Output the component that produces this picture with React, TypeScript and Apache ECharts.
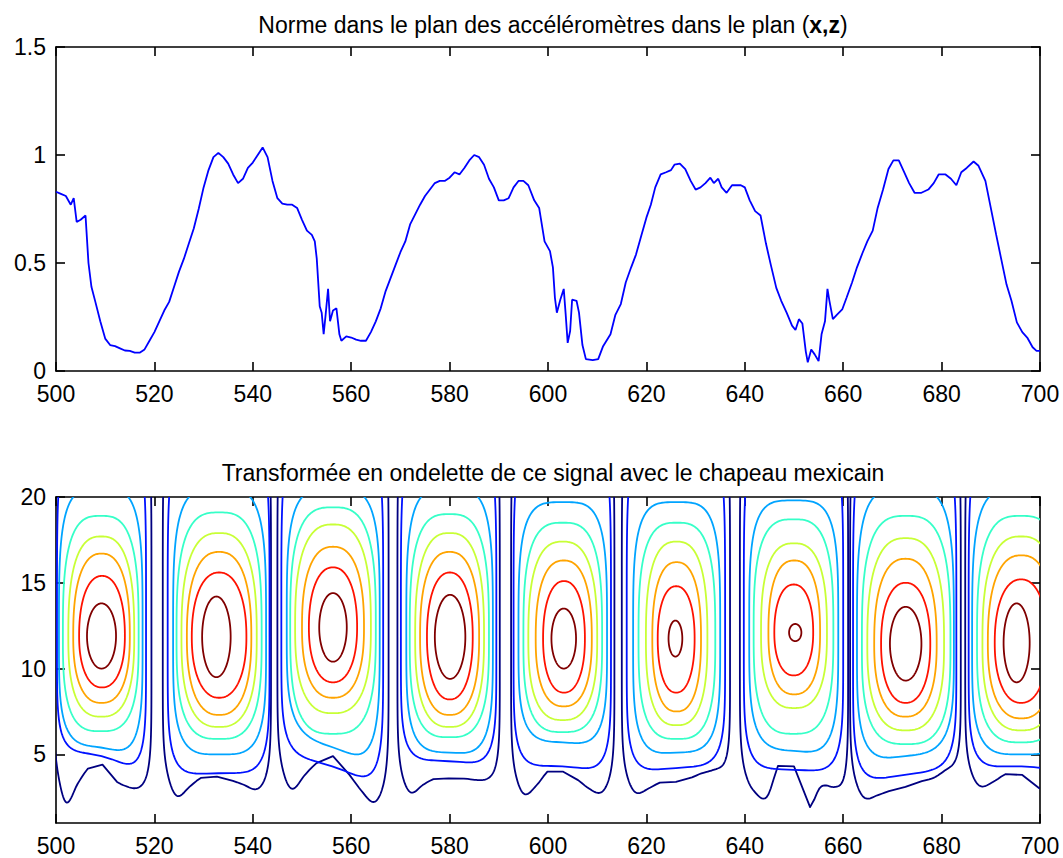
import React, { useEffect, useRef } from 'react';
import * as echarts from 'echarts';

// ---------- Top plot: signal ----------
const signalX = [500,501,502,503,503.6,504.2,505,506,506.6,507.2,508,509,510,511,512,513,514,515,516,517,518,519,520,521,522,523,524,525,526,527,528,529,530,531,532,533,534,535,536,537,538,539,540,541,542,543,544,545,546,547,548,549,550,551,552,552.6,553,553.6,554,554.4,554.8,555.3,555.7,556.3,557,557.6,558,559,560,561,562,563,564,565,566,567,568,569,570,571,572,573,574,575,576,577,578,579,580,581,582,583,584,585,586,587,588,589,590,591,592,593,594,595,596,597.2,598.2,599.3,600.4,601,601.4,601.8,602.5,603.2,603.6,604,604.5,604.9,605.8,606.3,607,607.7,609.1,610.2,611.2,612.7,613.7,614.8,615.8,616.9,617.9,619,620,620.9,621.8,622.9,624,625,625.7,626.8,627.9,629,630,631,632,633,633.7,634.6,635.3,636.3,637.4,639.2,640,641,642.1,643.2,644.3,645.3,646.4,647.4,648.5,649.6,650.3,651,651.7,652.4,652.8,653.5,654.2,655,655.6,656.3,656.8,657.2,657.9,658.7,659.8,660.7,661.8,662.8,663.9,664.9,666,667,668.1,669.2,670.2,671.3,672.3,673.4,674.5,675.9,677.3,678.4,679.4,680.8,681.9,683,684,685.1,686.5,687.5,688.9,690,691.1,692.1,693.2,694.2,695.3,696.4,697.4,698.5,699.3,700];
const signalY = [0.83,0.82,0.81,0.77,0.80,0.69,0.70,0.72,0.50,0.39,0.32,0.23,0.15,0.12,0.115,0.105,0.095,0.093,0.085,0.085,0.10,0.14,0.18,0.23,0.28,0.32,0.39,0.46,0.52,0.59,0.66,0.75,0.85,0.93,0.99,1.01,0.99,0.96,0.91,0.87,0.89,0.94,0.965,1.00,1.035,0.99,0.88,0.80,0.775,0.77,0.77,0.755,0.70,0.65,0.63,0.60,0.52,0.30,0.27,0.17,0.26,0.38,0.23,0.28,0.29,0.17,0.14,0.16,0.155,0.145,0.14,0.14,0.18,0.23,0.29,0.37,0.43,0.49,0.55,0.60,0.68,0.725,0.77,0.81,0.84,0.87,0.88,0.88,0.895,0.92,0.91,0.94,0.975,1.00,0.99,0.955,0.89,0.85,0.79,0.79,0.80,0.85,0.88,0.88,0.86,0.79,0.755,0.60,0.555,0.48,0.34,0.27,0.33,0.38,0.26,0.13,0.185,0.33,0.325,0.27,0.12,0.055,0.05,0.055,0.115,0.17,0.26,0.31,0.41,0.48,0.54,0.63,0.71,0.77,0.85,0.91,0.92,0.93,0.955,0.96,0.935,0.88,0.84,0.85,0.87,0.895,0.87,0.89,0.85,0.825,0.86,0.86,0.85,0.79,0.74,0.72,0.59,0.49,0.385,0.325,0.27,0.21,0.19,0.24,0.22,0.09,0.04,0.10,0.077,0.046,0.17,0.23,0.38,0.325,0.24,0.26,0.285,0.34,0.41,0.48,0.545,0.60,0.65,0.755,0.84,0.935,0.975,0.975,0.925,0.87,0.825,0.825,0.84,0.87,0.91,0.91,0.89,0.86,0.92,0.94,0.97,0.95,0.88,0.755,0.63,0.52,0.40,0.325,0.225,0.18,0.155,0.11,0.093,0.093];

const xTicks = [500, 520, 540, 560, 580, 600, 620, 640, 660, 680, 700];
const topYTicks = [0, 0.5, 1, 1.5];
const bottomYTicks = [5, 10, 15, 20];
const bottomYRange = [1, 20];

const topTitle = 'Norme dans le plan des accéléromètres dans le plan ({b|x,z})';
const bottomTitle = 'Transformée en ondelette de ce signal avec le chapeau mexicain';

// ---------- Bottom plot: contour levels (0 = outermost, 7 = innermost) ----------
const levelColors = ['#000080', '#0012FF', '#00A4FF', '#36FFC8', '#C8FF36', '#FFA400', '#FF1200', '#800000'];
// extents of each closed contour, one row per level, one value per cell
const contourLeft = [
  [499.5, 521.7, 545.0, 569.4, 592.5, 615.0, 639.0, 661.4, 684.8],
  [500.2, 522.7, 545.8, 570.1, 593.0, 616.0, 639.8, 662.0, 685.5],
  [500.6, 523.8, 546.9, 571.2, 594.0, 617.3, 640.9, 662.8, 686.2],
  [501.4, 524.5, 547.6, 571.9, 595.0, 618.4, 641.8, 663.8, 687.2],
  [502.5, 525.5, 548.6, 573.0, 596.0, 619.9, 643.3, 664.9, 688.3],
  [503.5, 526.6, 550.0, 574.0, 597.5, 621.2, 644.8, 666.3, 689.4],
  [504.7, 527.6, 551.4, 575.4, 599.0, 622.3, 646.0, 667.7, 690.8],
  [506.3, 529.7, 553.5, 577.0, 600.7, 624.5, 649.0, 669.5, 692.6],
];
const contourRight = [
  [519.4, 543.7, 567.6, 590.2, 613.5, 637.0, 661.0, 683.9, 708.0],
  [518.3, 543.4, 566.5, 589.5, 612.8, 636.0, 660.0, 683.0, 707.0],
  [517.6, 542.7, 565.8, 588.8, 612.0, 635.0, 659.0, 682.5, 706.0],
  [516.8, 541.8, 565.0, 588.0, 611.0, 634.0, 658.0, 681.8, 705.0],
  [515.9, 540.8, 564.0, 587.0, 610.0, 632.4, 656.7, 680.5, 704.0],
  [515.0, 539.7, 562.6, 586.0, 608.9, 631.1, 655.3, 679.0, 703.0],
  [514.0, 538.7, 561.2, 584.7, 607.5, 629.8, 653.9, 677.7, 701.5],
  [512.2, 535.5, 559.1, 583.2, 605.7, 627.3, 651.5, 675.9, 697.9],
];
// lower edge of each contour, sampled evenly from its left to its right end
const contourBottom = [
  [[3.2, 1.9, 3.3, 4.3, 4.4, 3.5, 3.1, 2.8, 2.6], [2.9, 2.3, 3.1, 3.7, 3.7, 3.5, 3.2, 2.7, 2.6],
   [3.2, 2.7, 3.8, 4.6, 4.9, 4.0, 2.9, 1.9, 2.0], [2.8, 2.5, 3.2, 3.6, 3.6, 3.6, 3.5, 3.3, 3.0],
   [2.8, 2.4, 3.2, 4.1, 4.0, 3.6, 3.0, 2.5, 2.6], [2.8, 2.5, 3.0, 3.4, 3.4, 3.6, 3.9, 3.9, 3.4],
   [3.0, 2.6, 2.5, 4.6, 4.3, 1.9, 3.1, 2.8, 2.0], [2.6, 2.2, 2.6, 2.9, 3.1, 3.4, 3.6, 3.9, 3.6],
   [3.2, 2.9, 3.4, 3.9, 3.8, 3.1, 2.9, 2.9, 3.0]],
  [[5.2, 4.9, 4.0], [3.8, 3.9, 3.9], [5.0, 4.3, 3.2], [4.7, 4.6, 4.4], [4.3, 4.3, 4.0],
   [4.0, 4.2, 4.4], [4.2, 4.1, 4.0], [3.4, 3.8, 4.2], [4.2, 4.3, 4.0]],
  [[5.6, 5.4, 4.9], [5.0, 5.0, 5.0], [6.2, 5.4, 4.4], [5.2, 5.1, 5.0], [5.8, 5.7, 5.5],
   [5.0, 5.1, 5.2], [5.4, 5.2, 5.0], [4.6, 4.9, 5.2], [5.0, 5.0, 5.0]],
  [[6.35], [5.9], [6.2], [6.0], [6.3], [5.9], [6.2], [5.6], [5.7]],
  [[7.2], [6.6], [7.4], [6.6], [7.0], [6.7], [7.7], [6.4], [6.4]],
  [[8.0], [7.3], [8.3], [7.3], [7.8], [7.5], [8.5], [7.2], [7.1]],
  [[8.9], [8.3], [9.2], [8.2], [8.6], [8.6], [9.6], [8.0], [8.0]],
  [[10.0], [9.5], [10.4], [9.4], [10.0], [10.7], [11.6], [9.3], [9.2]],
];
const contourTop = [
  [26, 26, 26, 26, 26, 26, 26, 26, 26],
  [24, 24, 24, 24, 24, 24, 24, 24, 24],
  [20.5, 20.5, 20.5, 20.5, 19.7, 19.7, 19.8, 20.5, 20.5],
  [18.9, 19.1, 19.4, 19.0, 18.5, 18.5, 18.7, 18.9, 18.9],
  [17.7, 17.9, 18.4, 17.9, 17.4, 17.4, 17.3, 17.6, 17.7],
  [16.7, 16.8, 17.1, 16.8, 16.3, 16.2, 16.3, 16.4, 16.6],
  [15.4, 15.6, 15.9, 15.6, 15.1, 14.8, 14.9, 15.0, 15.2],
  [13.8, 14.2, 14.4, 14.3, 13.5, 12.8, 12.6, 13.6, 13.8],
];
// squareness of each level's outline (drawing style)
const levelSquareness = [6, 5, 3.8, 3, 2.6, 2.4, 2.2, 2];

const FONT = 'Liberation Sans, Arial, Helvetica, sans-serif';
const FS = 23;

// smooth (Catmull-Rom) reading of an evenly sampled profile at fraction f
function interp(profile: number[], f: number) {
  const n = profile.length;
  if (n === 1) return profile[0];
  const t = Math.max(0, Math.min(1, f)) * (n - 1);
  const i = Math.min(n - 2, Math.floor(t));
  const u = t - i;
  const p0 = profile[Math.max(0, i - 1)], p1 = profile[i], p2 = profile[i + 1], p3 = profile[Math.min(n - 1, i + 2)];
  const m1 = (p2 - p0) / 2, m2 = (p3 - p1) / 2;
  const u2 = u * u, u3 = u2 * u;
  return (2 * u3 - 3 * u2 + 1) * p1 + (u3 - 2 * u2 + u) * m1 + (-2 * u3 + 3 * u2) * p2 + (u3 - u2) * m2;
}

export default function App() {
  const ref = useRef<HTMLDivElement>(null);
  useEffect(() => {
    if (!ref.current) return;
    const chart = echarts.init(ref.current, undefined, { renderer: 'svg' });

    const lineData = signalX.map((x, i) => [x, signalY[i]]);
    const contourData: number[][] = [];
    for (let lvl = 0; lvl < levelColors.length; lvl++) {
      for (let c = 0; c < contourLeft[lvl].length; c++) {
        const mid = (contourBottom[7][c][0] + contourTop[7][c]) / 2;
        const prof = contourBottom[lvl][c];
        contourData.push([contourLeft[lvl][c], Math.min(...prof), lvl, contourRight[lvl][c], contourTop[lvl][c], mid, c]);
      }
    }

    const axisLine = { show: true, onZero: false, lineStyle: { color: '#000', width: 1.6 } };
    const tick = { show: true, inside: true, length: 9, lineStyle: { color: '#000', width: 1.6 } };
    const label = { color: '#000', fontSize: FS, fontFamily: FONT, lineHeight: 20 };

    const xAxisFor = (grid: number, pos: 'top' | 'bottom') => ({
      type: 'value', gridIndex: grid, position: pos, min: xTicks[0], max: xTicks[xTicks.length - 1], interval: 20,
      axisLine, axisTick: tick, splitLine: { show: false },
      axisLabel: pos === 'bottom' ? { ...label, margin: 13, showMinLabel: true, showMaxLabel: true } : { show: false },
    });

    const option: any = {
      animation: false,
      backgroundColor: '#fff',
      title: [
        {
          text: topTitle, left: 548, top: 8, textAlign: 'center',
          textStyle: { fontSize: FS, fontWeight: 'normal', fontFamily: FONT, color: '#000',
            rich: { b: { fontSize: FS, fontWeight: 'bold', fontFamily: FONT, color: '#000' } } },
        },
        {
          text: bottomTitle, left: 548, top: 456, textAlign: 'center',
          textStyle: { fontSize: FS, fontWeight: 'normal', fontFamily: FONT, color: '#000' },
        },
      ],
      grid: [
        { left: 56, top: 47, width: 984, height: 324 },
        { left: 56, top: 497, width: 984, height: 326 },
      ],
      xAxis: [xAxisFor(0, 'bottom'), xAxisFor(0, 'top'), xAxisFor(1, 'bottom'), xAxisFor(1, 'top')],
      yAxis: [
        { type: 'value', gridIndex: 0, position: 'left', min: topYTicks[0], max: topYTicks[topYTicks.length - 1], interval: 0.5,
          axisLine, axisTick: tick, splitLine: { show: false }, axisLabel: { ...label, margin: 10, lineHeight: 18 } },
        { type: 'value', gridIndex: 0, position: 'right', min: topYTicks[0], max: topYTicks[topYTicks.length - 1], interval: 0.5,
          axisLine, axisTick: tick, splitLine: { show: false }, axisLabel: { show: false } },
        { type: 'value', gridIndex: 1, position: 'left', min: bottomYRange[0], max: bottomYRange[1],
          axisLine, axisTick: { ...tick, customValues: bottomYTicks }, splitLine: { show: false },
          axisLabel: { ...label, margin: 10, customValues: bottomYTicks } },
        { type: 'value', gridIndex: 1, position: 'right', min: bottomYRange[0], max: bottomYRange[1],
          axisLine, axisTick: { ...tick, customValues: bottomYTicks }, splitLine: { show: false },
          axisLabel: { show: false } },
      ],
      series: [
        {
          type: 'line', xAxisIndex: 0, yAxisIndex: 0, data: lineData, showSymbol: false, symbol: 'none',
          lineStyle: { color: '#0000FF', width: 1.8 }, z: 3,
        },
        {
          type: 'custom', xAxisIndex: 2, yAxisIndex: 2, data: contourData,
          encode: { x: 0, y: 1 },
          renderItem: (params: any, api: any) => {
            const xl = api.value(0), lvl = api.value(2), xr = api.value(3), yt = api.value(4), ym = api.value(5), cell = api.value(6);
            const prof = contourBottom[lvl][cell];
            const p = levelSquareness[lvl];
            const cx = (xl + xr) / 2, hw = (xr - xl) / 2;
            const pts: number[][] = [];
            const N = 240;
            for (let i = 0; i <= N; i++) {
              const a = (i / N) * Math.PI * 2;
              const c = Math.cos(a), s = Math.sin(a);
              const ex = Math.sign(c) * Math.pow(Math.abs(c), 2 / p);
              const ey = Math.sign(s) * Math.pow(Math.abs(s), 2 / p);
              const x = cx + hw * ex;
              let y;
              if (s >= 0) y = ym + (yt - ym) * ey;
              else {
                const yb = interp(prof, (x - xl) / (xr - xl));
                y = ym + (ym - yb) * ey;
              }
              pts.push(api.coord([x, y]));
            }
            const cs = params.coordSys;
            return {
              type: 'group',
              clipPath: { type: 'rect', shape: { x: cs.x, y: cs.y, width: cs.width, height: cs.height } },
              children: [{
                type: 'polygon', shape: { points: pts },
                style: { fill: 'none', stroke: levelColors[lvl], lineWidth: 1.8, lineJoin: 'round' },
              }],
            };
          },
          z: 2,
        },
      ],
    };
    chart.setOption(option);
    return () => chart.dispose();
  }, []);
  return <div ref={ref} style={{ position: 'absolute', left: 0, top: 0, width: 1063, height: 858, background: '#fff' }} />;
}
